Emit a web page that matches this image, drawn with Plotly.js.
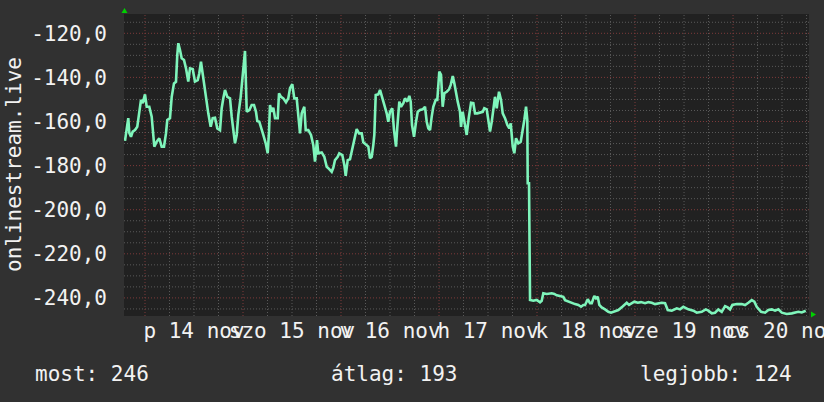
<!DOCTYPE html>
<html>
<head>
<meta charset="utf-8">
<script src="https://cdn.plot.ly/plotly-3.0.1.min.js"></script>
<style>
html,body{margin:0;padding:0;background:#313131;}
#chart{width:824px;height:402px;}
</style>
</head>
<body>
<div id="chart"></div>
<script>
// Hours since 14 Nov 00:00
const hours = [
-4.90,-4.65,-4.09,-3.84,-3.43,-3.01,-2.45,-1.89,-1.47,-0.98,-0.56,0,0.42,1.05,1.64,2.03,2.28,2.87,3.50,4.09,4.65,5.14,5.46,6.12,6.54,7.10,7.59,7.91,8.16,8.57,8.99,9.55,10.04,10.60,11.02,11.68,12.24,12.91,13.30,13.71,14.28,14.94,15.50,16.09,16.58,17.14,17.71,18.37,18.78,19.18,19.59,20.16,20.82,21.23,21.62,22.04,22.46,22.85,23.44,24.07,24.49,24.91,25.54,26.13,26.69,27.18,27.50,27.99,
28.41,28.97,29.56,30.05,30.37,30.61,31.03,31.42,31.84,32.50,32.82,33.31,33.87,34.53,35.09,35.51,36.07,36.56,37.15,37.54,37.96,38.38,39.01,39.36,39.99,40.65,41.22,41.63,42.12,42.44,43.27,43.91,44.50,45.06,45.72,46.11,46.53,47.19,47.58,48.32,48.81,49.15,49.64,50.20,50.62,51.18,51.84,52.41,53.07,53.46,54.05,54.69,55.10,55.52,55.91,56.16,56.50,57.13,57.55,57.97,58.60,59.19,59.58,60.00,60.56,
60.98,61.47,61.79,62.28,62.69,63.26,63.67,64.24,64.73,65.07,65.39,65.88,66.37,66.79,67.35,68.01,68.57,68.99,69.38,69.80,70.21,70.60,71.19,71.58,72.07,72.49,72.90,73.30,73.89,74.45,74.87,75.36,75.75,76.16,76.58,77.14,77.39,77.80,78.37,78.78,79.27,79.84,80.40,80.82,81.38,82.04,82.70,83.09,83.68,84.07,84.49,84.91,85.30,85.71,86.13,86.69,87.18,87.60,88.16,88.73,89.22,89.56,90.05,90.44,90.86,91.42,92.01,92.50,92.89,93.31,93.62,93.72,94.04,
94.29,95.09,95.93,96.73,97.15,97.54,98.37,99.60,100.24,100.82,101.63,102.44,102.86,103.67,104.50,105.31,106.12,106.78,107.34,107.76,108.42,108.98,109.40,110.03,110.45,110.87,111.26,111.84,112.65,113.46,114.12,114.93,115.91,116.89,117.97,118.53,119.19,119.83,120.66,121.47,122.45,123.26,124.09,124.90,126.54,127.35,128.01,128.99,130.22,131.02,131.83,133.05,134.28,135.11,136.33,137.31,137.95,138.78,139.59,140.40,141.23,142.04,142.70,143.27,143.83,144.91,146.13,146.94,147.75,148.58,149.22,149.80,150.86,151.84,152.65,153.48,154.29,155.10,155.93,157.15,158.38,159.18,159.99,160.82,161.80
];
const values = [
-168.8,-166.1,-158.5,-165.2,-166.9,-164.6,-163.9,-162.4,-157.1,-150.2,-151.7,-147.7,-153.3,-153.3,-157.8,-167.6,-171.4,-169.2,-167.6,-171.4,-171.4,-165.4,-159.3,-158.5,-148.8,-142.7,-142.0,-129.8,-124.5,-127.6,-131.3,-132.1,-135.9,-141.9,-135.9,-136.2,-141.9,-141.2,-138.1,-132.9,-141.2,-149.5,-156.3,-162.4,-158.5,-158.3,-163.1,-163.9,-154.0,-149.5,-145.7,-148.8,-149.5,-157.8,-163.1,-169.9,-166.1,-157.1,-148.8,-135.9,-128.0,-155.6,-154.8,-152.5,-152.5,-155.6,-159.8,-160.1,
-163.1,-166.1,-169.9,-174.4,-164.6,-152.5,-155.6,-153.7,-158.5,-158.5,-147.2,-148.8,-149.5,-151.3,-149.5,-144.9,-143.1,-149.5,-149.5,-158.5,-165.4,-156.3,-153.3,-163.9,-163.9,-166.1,-170.7,-178.2,-168.4,-174.4,-174.0,-176.0,-180.5,-181.5,-182.8,-181.0,-177.5,-176.0,-174.4,-175.2,-179.7,-184.6,-177.5,-177.1,-173.7,-168.4,-163.4,-165.4,-165.4,-169.4,-170.3,-171.4,-176.7,-176.0,-170.7,-166.1,-148.0,-147.7,-145.7,-148.0,-152.5,-156.3,-160.1,-155.6,-154.0,
-163.9,-171.4,-162.4,-151.0,-153.3,-151.7,-149.5,-151.0,-148.4,-151.0,-161.6,-166.9,-160.1,-155.6,-154.8,-154.5,-153.3,-160.1,-163.1,-163.9,-157.8,-153.3,-150.2,-150.2,-137.4,-138.9,-153.3,-147.2,-146.5,-145.4,-143.4,-139.4,-142.7,-147.2,-151.0,-155.6,-162.4,-155.6,-161.6,-166.1,-158.5,-151.5,-151.7,-156.3,-156.3,-156.0,-155.6,-154.0,-154.5,-159.3,-164.6,-160.1,-153.3,-148.8,-154.0,-146.5,-150.2,-156.3,-158.5,-161.6,-163.1,-160.8,-171.4,-174.4,-167.6,-169.9,-169.2,-164.6,-159.3,-153.3,-159.3,-188.0,-188.0,
-240.9,-241.3,-240.9,-242.0,-241.3,-237.9,-238.2,-237.9,-238.2,-238.8,-239.1,-239.5,-241.0,-241.7,-242.2,-242.8,-243.2,-244.0,-243.2,-243.2,-240.6,-242.4,-242.4,-239.1,-240.2,-239.5,-243.2,-244.3,-245.2,-246.3,-246.7,-246.3,-245.5,-244.0,-242.2,-243.2,-242.4,-241.7,-242.2,-241.9,-242.4,-241.9,-242.2,-242.8,-242.2,-242.4,-245.5,-245.8,-244.7,-245.2,-244.0,-245.2,-245.8,-246.7,-246.3,-245.2,-245.8,-247.0,-246.7,-245.2,-246.3,-243.7,-244.3,-245.2,-243.2,-242.8,-242.8,-243.2,-242.2,-241.0,-241.7,-244.0,-246.3,-246.7,-245.5,-245.2,-245.8,-245.2,-246.7,-247.3,-247.0,-246.7,-246.3,-246.6,-245.8
];
const dayStartHours = [0, 24, 48, 72, 96, 120, 144];
const dayLabelHours = [12, 36, 60, 84, 108, 132, 156];
const dayLabels = ['p 14 nov', 'szo 15 nov', 'v 16 nov', 'h 17 nov', 'k 18 nov', 'sze 19 nov', 'cs 20 nov'];
const yTickVals = [-240, -220, -200, -180, -160, -140, -120];
const yTickText = ['-240,0', '-220,0', '-200,0', '-180,0', '-160,0', '-140,0', '-120,0'];
const seriesName = 'onlinestream.live';
const statLabels = ['most: 246', 'átlag: 193', 'legjobb: 124'];

const W = 824, H = 402;
const L = 124, R = 809, T = 14, B = 316;
const px = p => (p - L) / (R - L);
const py = p => (B - p) / (B - T);
const xRange = [-5.14, 162.6];
const yRange = [-248.2, -111.25];
const FONT = '"DejaVu Sans Mono", monospace';
const txt = '#f2f2f2';
const minorGrid = '#5a5a5a';
const majorGrid = '#7e3a3a';

// grid positions: minor lines skip the positions that carry a major line
function gridSteps(lo, hi, step, skipEvery) {
  const out = [];
  for (let v = Math.ceil(lo / step) * step; v <= hi; v += step) {
    if (Math.abs(v / skipEvery - Math.round(v / skipEvery)) > 1e-9) out.push(v);
  }
  return out;
}
const xMinor = gridSteps(xRange[0], xRange[1], 6, 24);
const yMinor = gridSteps(yRange[0], yRange[1], 5, 20);

const gridShapes = [];
const vLine = (v, c) => gridShapes.push({type: 'line', layer: 'below', xref: 'x', yref: 'paper', x0: v, x1: v, y0: 0, y1: 1, line: {color: c, width: 1, dash: '1px,2px'}});
const hLine = (v, c) => gridShapes.push({type: 'line', layer: 'below', xref: 'paper', yref: 'y', x0: 0, x1: 1, y0: v, y1: v, line: {color: c, width: 1, dash: '1px,2px'}});
xMinor.forEach(v => vLine(v, minorGrid));
yMinor.forEach(v => hLine(v, minorGrid));
dayStartHours.forEach(v => vLine(v, majorGrid));
yTickVals.forEach(v => hLine(v, majorGrid));

const traces = [
  {x: hours, y: values, type: 'scatter', mode: 'lines', line: {color: '#7ff5bb', width: 2.6}, hoverinfo: 'skip', showlegend: false},
  {x: dayLabelHours, y: dayLabelHours.map(() => null), xaxis: 'x2', type: 'scatter', mode: 'lines', hoverinfo: 'skip', showlegend: false}
];

const statX = [33, 328.5, 637.5];
const annotations = statLabels.map((s, i) => ({
  text: s, xref: 'paper', yref: 'paper', x: px(statX[i]), y: py(374), xanchor: 'left', yanchor: 'middle',
  showarrow: false, font: {family: FONT, size: 21, color: txt}
}));
annotations.push({
  text: seriesName, xref: 'paper', yref: 'paper', x: px(14), y: 0.5, textangle: -90,
  xanchor: 'center', yanchor: 'middle', showarrow: false, font: {family: FONT, size: 21, color: txt}
});

const tri = pts => 'M ' + pts.map(p => px(p[0]) + ',' + py(p[1])).join(' L ') + ' Z';
const shapes = gridShapes.concat([
  {type: 'path', xref: 'paper', yref: 'paper', path: tri([[121.5, 13], [127.5, 13], [124.5, 8]]), fillcolor: '#00d000', line: {width: 0}},
  {type: 'path', xref: 'paper', yref: 'paper', path: tri([[811, 311.5], [811, 317.5], [816, 314.5]]), fillcolor: '#00d000', line: {width: 0}}
]);

const layout = {
  width: W, height: H,
  margin: {l: L, r: W - R, t: T, b: H - B, pad: 0},
  paper_bgcolor: '#313131', plot_bgcolor: '#212121',
  font: {family: FONT, size: 21, color: txt},
  showlegend: false,
  xaxis: {
    range: xRange, showticklabels: false, ticks: '', showgrid: false, zeroline: false,
    showline: false, fixedrange: true
  },
  xaxis2: {
    overlaying: 'x', anchor: 'y', side: 'bottom', range: xRange, tickmode: 'array',
    tickvals: dayLabelHours, ticktext: dayLabels, tickangle: 0, ticklabeloverflow: 'allow',
    showgrid: false, zeroline: false, ticks: '', ticklabelstandoff: 0,
    tickfont: {family: FONT, size: 21, color: txt}, fixedrange: true
  },
  yaxis: {
    range: yRange, tickmode: 'array', tickvals: yTickVals, ticktext: yTickText,
    showgrid: false, zeroline: false,
    ticks: '', ticklabelstandoff: 16, tickfont: {family: FONT, size: 21, color: txt},
    showline: false, fixedrange: true
  },
  annotations: annotations,
  shapes: shapes
};

Plotly.newPlot('chart', traces, layout, {displayModeBar: false, staticPlot: true});
</script>
</body>
</html>
